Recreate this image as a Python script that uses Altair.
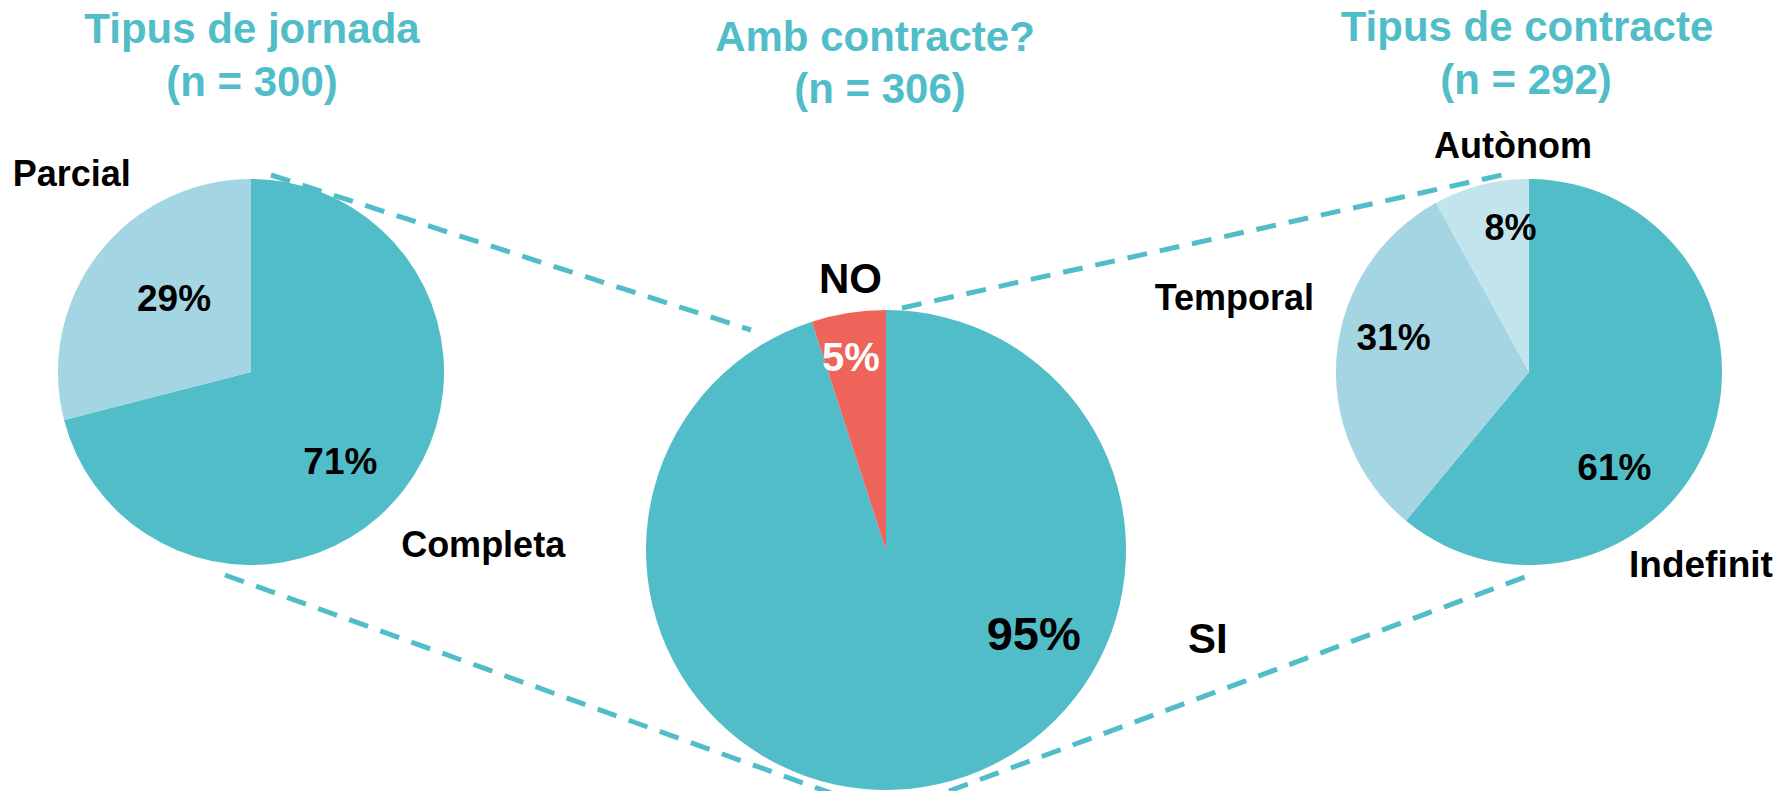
import altair as alt
import pandas as pd

# ---------------- data ----------------
jornada_cat = ["Completa", "Parcial"]
jornada_pct = [71, 29]

contracte_cat = ["SI", "NO"]
contracte_pct = [95, 5]

tipus_cat = ["Indefinit", "Temporal", "Autònom"]
tipus_pct = [61, 31, 8]

title_lines = [
    ["Tipus de jornada", "(n = 300)"],
    ["Amb contracte?", "(n = 306)"],
    ["Tipus de contracte", "(n = 292)"],
]

all_cats = jornada_cat + contracte_cat + tipus_cat
# ---------------- styles ----------------
TEAL = "#51BDC8"
LIGHT = "#A3D5E3"
LIGHTER = "#C2E4EC"
CORAL = "#EF645A"
cat_colors = [TEAL, LIGHT, TEAL, CORAL, TEAL, LIGHT, LIGHTER]
FONT = "Liberation Sans"

W, H = 1775, 783
OFF = 8  # page margin

color_scale = alt.Scale(domain=all_cats, range=cat_colors)
theta_scale = alt.Scale(domain=[0, 100])

# pie geometry (image coords)
pies = [
    dict(cats=jornada_cat, pcts=jornada_pct, cx=251, cy=372, R=193),
    dict(cats=contracte_cat, pcts=contracte_pct, cx=886, cy=550, R=240),
    dict(cats=tipus_cat, pcts=tipus_pct, cx=1529, cy=372, R=193),
]

# label placement: (cat, kind, radius, dx, dy, size, color)
label_specs = [
    # left pie
    [("Completa", "label", 127, -11, 13, 37, "black"),
     ("Parcial", "label", 105, 6, -8, 37, "black"),
     ("Completa", "cat", 290, 3, -4, 36, "black"),
     ("Parcial", "cat", 266, 31, -34, 36, "black")],
    # middle pie
    [("SI", "label", 171, 121, -83, 47, "black"),
     ("NO", "label", 193, -5, 0, 40, "white"),
     ("SI", "cat", 332, 270, -238, 42, "black"),
     ("NO", "cat", 272, 7, -1, 42, "black")],
    # right pie
    [("Indefinit", "label", 129, -36, 53, 37, "black"),
     ("Temporal", "label", 142, 6, -20, 37, "black"),
     ("Autònom", "label", 143, 17, -4, 36, "black"),
     ("Indefinit", "cat", 254, -67, 108, 37, "black"),
     ("Temporal", "cat", 302, 6, -45, 36, "black"),
     ("Autònom", "cat", 225, 40, -7, 36, "black")],
]

title_pos = [
    [(252, 30), (252, 83)],
    [(875, 38), (880, 90)],
    [(1527, 28), (1526, 81)],
]

dash_lines = [
    ((271, 175), (751, 330)),
    ((225, 575), (842, 797)),
    ((902, 308), (1502, 175)),
    ((949, 791), (1525, 577)),
]

layers = []
one = pd.DataFrame({"k": [0]})

# dashed connector lines (behind the pies)
for (x1, y1), (x2, y2) in dash_lines:
    layers.append(
        alt.Chart(one).mark_rule(color=TEAL, strokeWidth=5, strokeDash=[20, 13]).encode(
            x=alt.value(x1 - OFF), y=alt.value(y1 - OFF),
            x2=alt.value(x2 - OFF), y2=alt.value(y2 - OFF))
    )

for pie, specs in zip(pies, label_specs):
    df = pd.DataFrame({"cat": pie["cats"], "pct": pie["pcts"], "idx": list(range(len(pie["cats"])))})
    df["label"] = [f"{p}%" for p in pie["pcts"]]
    cx, cy = pie["cx"] - OFF, pie["cy"] - OFF
    base = alt.Chart(df)
    layers.append(
        base.mark_arc(radius=pie["R"]).encode(
            theta=alt.Theta("pct:Q", stack=True, scale=theta_scale),
            order=alt.Order("idx:Q"),
            color=alt.Color("cat:N", scale=color_scale, legend=None),
            x=alt.value(cx), y=alt.value(cy),
        )
    )
    tb = base.transform_window(
        cum="sum(pct)", sort=[alt.SortField("idx")], frame=[None, 0]
    ).transform_calculate(mid="datum.cum - datum.pct / 2")
    for cat, kind, r, dx, dy, size, col in specs:
        layers.append(
            tb.transform_filter(alt.datum.cat == cat).mark_text(
                radius=r, dx=dx, dy=dy, fontSize=size, fontWeight="bold",
                font=FONT, color=col, align="center", baseline="middle",
            ).encode(
                theta=alt.Theta("mid:Q", scale=theta_scale),
                text=alt.Text(f"{kind}:N"),
                x=alt.value(cx), y=alt.value(cy),
            )
        )

for lines, poss in zip(title_lines, title_pos):
    for t, (x, y) in zip(lines, poss):
        layers.append(
            alt.Chart(pd.DataFrame({"t": [t]})).mark_text(
                fontSize=42, fontWeight="bold", font=FONT, color=TEAL,
                align="center", baseline="middle",
            ).encode(text="t:N", x=alt.value(x - OFF), y=alt.value(y - OFF))
        )

chart = alt.layer(*layers).properties(
    width=W, height=H, padding=0, autosize=alt.AutoSizeParams(type="none"),
    background="white",
).configure_view(stroke=None)

chart.save("out.html", embed_options={"renderer": "svg", "actions": False})
